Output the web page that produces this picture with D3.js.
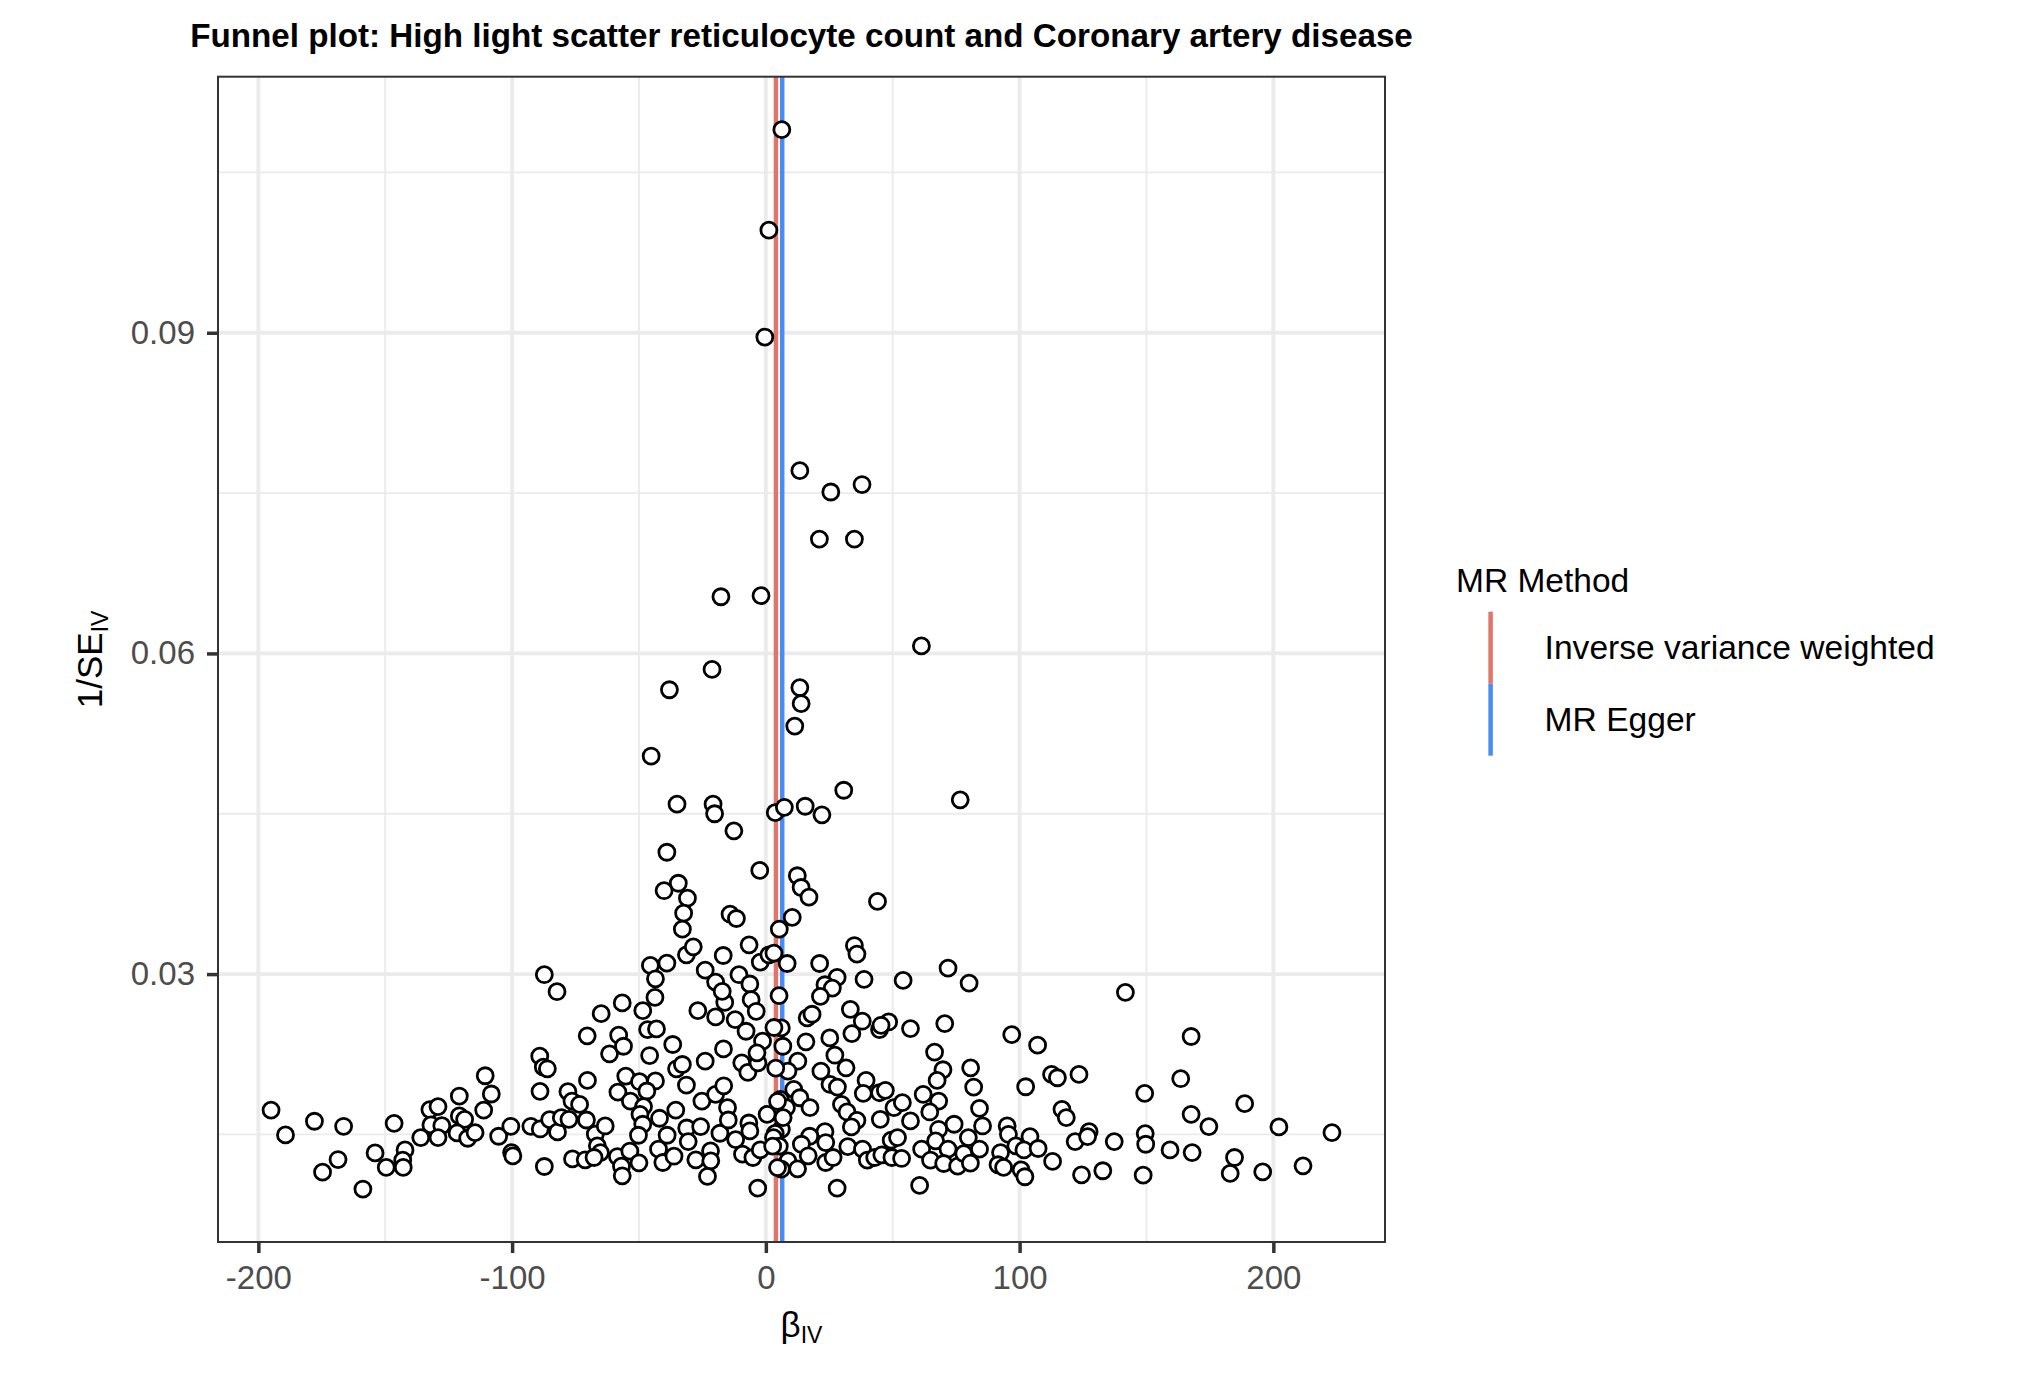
<!DOCTYPE html>
<html>
<head>
<meta charset="utf-8">
<script src="https://cdn.jsdelivr.net/npm/d3@7"></script>
<style>
  body { margin: 0; background: #fff; }
  text { font-family: "Liberation Sans", Arial, sans-serif; }
</style>
</head>
<body>
<svg id="chart" width="2032" height="1374"></svg>
<script>
// ---- data ----
// causal estimate per instrument (beta_IV) and its precision (1/SE_IV)
const betaIV = [
  -195.0, -189.3, -177.9, -166.4, -174.7, -168.6, -158.8, -154.0, -149.6, -146.5,
  -142.2, -143.1, -142.9, -136.0, -132.4, -129.2, -132.0, -127.7, -129.2, -120.8,
  -120.8, -118.7, -121.7, -117.5, -114.6, -110.6, -108.2, -111.2, -105.3, -100.5,
  -100.2, -99.7, -87.3, -82.3, -89.1, -87.7, -86.1, -89.0, -92.6, -88.9,
  -85.2, -82.1, -80.6, -78.0, -76.4, -73.4, -77.6, -87.3, -70.3, -70.4,
  -64.9, -56.6, -70.7, -67.2, -63.3, -66.4, -65.2, -76.2, -71.2, -67.7,
  -58.5, -56.9, -56.6, -53.6, -50.0, -61.6, -58.0, -56.1, -58.3, -55.2,
  -53.4, -49.8, -48.5, -45.5, -43.5, -39.0, -43.7, -46.6, -43.1, -45.8,
  -36.7, -35.2, -32.9, -43.5, -46.9, -48.2, -49.6, -48.5, -50.2, -41.9,
  -38.9, -42.3, -40.6, -36.2, -35.5, -31.3, -31.2, -30.6, -27.6, -25.2,
  -25.7, -21.8, -21.7, -23.0, -23.9, -31.3, -28.6, -26.8, -23.9, -19.8,
  -16.8, -19.8, -16.2, -17.2, -16.7, -19.8, -16.6, -18.1, -15.1, -14.8,
  -11.9, -9.2, -5.1, -3.2, -10.6, -6.3, -6.6, -2.2, 1.2, -12.1,
  -7.8, -5.8, -3.8, -1.3, -9.5, -7.1, -3.1, -3.5, -6.7, -6.3,
  -2.2, 0.5,
  34.9, 35.9, 8.4, 21.2, 28.1, 23.3, 26.2, 21.5, 38.7, 54.1,
  71.8, 80.1, 141.7, 5.2, 33.3, 16.3, 18.2, 38.0, 44.8, 48.4,
  45.4, 57.0, 70.5, 33.9, 25.2, 15.8, 96.9, 107.1, 167.6, 6.1,
  6.7, 27.2, 12.6, 66.5, 21.7, 31.6, 8.7, 69.8, 80.7, 67.5,
  81.9, 102.4, 112.6, 114.9, 123.4, 163.5, 149.3, 25.3, 28.2, 39.5,
  38.4, 44.8, 47.1, 62.0, 68.1, 11.0, 13.4, 17.4, 5.7, 8.1,
  29.8, 32.0, 35.9, 33.7, 50.5, 53.8, 45.1, 57.0, 64.6, 84.2,
  116.7, 118.4, 167.6, 188.7, 174.6, 202.2, 223.1, 6.1, 23.3, 17.3,
  23.6, 14.0, 32.3, 38.1, 16.7, 23.6, 26.5, 8.7, 12.5, 6.1,
  28.1, 40.0, 42.9, 45.7, 49.4, 51.9, 49.7, 53.5, 60.6, 61.4,
  64.9, 68.1, 66.9, 74.2, 71.8, 70.1, 75.6, 78.0, 79.8, 80.6,
  84.2, 85.4, 95.1, 95.6, 92.5, 91.5, 93.7, 98.5, 104.1, 101.7,
  107.3, 100.6, 102.1, 113.0, 121.9, 127.4, 126.8, 124.4, 132.8, 137.3,
  149.5, 149.7, 148.7, 159.3, 168.0, 184.7, 183.0, 195.8, 211.7, 6.8,
  3.2,
  6.3, 1.2, -0.4, 13.4, 25.6, 37.9, 21.1, 34.9, -17.7, -1.9,
  61.3, -21.2, -38.0, 13.4, 13.9, 11.4, -45.2, 30.7, 76.6, -35.0,
  -20.8, -20.2, 3.7, 7.3, 15.5, 22.1, -12.6, -39.0, -2.4, 12.4,
  13.9, -34.5, -40.1, -30.9, 17.0, 44.0, -32.4, -14.1, -11.6, 10.4,
  -32.9, 5.3,
  3.2, 3.9, 4.6, 3.7, 3.0, 5.3, 2.7, 4.6
];
const invSE = [
  0.01728, 0.01495, 0.01623, 0.01576, 0.01147, 0.01265, 0.00989, 0.01327, 0.01191, 0.01604,
  0.01355, 0.01259, 0.01191, 0.01470, 0.01732, 0.01760, 0.01589, 0.01582, 0.01470, 0.01859,
  0.01673, 0.01641, 0.01514, 0.01464, 0.01517, 0.02049, 0.01878, 0.01728, 0.01483, 0.01576,
  0.01330, 0.01299, 0.02994, 0.02835, 0.02232, 0.02130, 0.02114, 0.01903, 0.01576, 0.01551,
  0.01638, 0.01523, 0.01657, 0.01900, 0.01812, 0.01781, 0.01641, 0.01200, 0.02005, 0.02422,
  0.02630, 0.02730, 0.01635, 0.01502, 0.01579, 0.01393, 0.01330, 0.01271, 0.01262, 0.01284,
  0.01293, 0.01203, 0.01113, 0.01343, 0.01234, 0.02254, 0.02428, 0.02325, 0.01896, 0.02046,
  0.01812, 0.01993, 0.02658, 0.03081, 0.02956, 0.03103, 0.02782, 0.02481, 0.02487, 0.02238,
  0.02341, 0.02114, 0.02154, 0.02000, 0.01906, 0.01760, 0.01688, 0.01595, 0.01492, 0.01651,
  0.01492, 0.01362, 0.01237, 0.01296, 0.01728, 0.01962, 0.01560, 0.01433, 0.01262, 0.01812,
  0.01573, 0.01346, 0.01253, 0.01107, 0.02185, 0.03180, 0.03255, 0.02658, 0.03037, 0.02925,
  0.03174, 0.02599, 0.02736, 0.02838, 0.02300, 0.01875, 0.01955, 0.01511, 0.01750, 0.01635,
  0.01452, 0.01315, 0.01284, 0.00998, 0.02994, 0.02907, 0.03274, 0.03112, 0.03180, 0.02574,
  0.02465, 0.02761, 0.02652, 0.02372, 0.02170, 0.02080, 0.02170, 0.02263, 0.01607, 0.01533,
  0.01355, 0.01688,
  0.03267, 0.03187, 0.03099, 0.03099, 0.02969, 0.02900, 0.02869, 0.02792, 0.02950, 0.02941,
  0.03056, 0.02916, 0.02829, 0.02798, 0.02670, 0.02590, 0.02624, 0.02559, 0.02481, 0.02552,
  0.02521, 0.02490, 0.02537, 0.02443, 0.02403, 0.02366, 0.02434, 0.02335, 0.02416, 0.02496,
  0.02325, 0.02241, 0.02185, 0.02270, 0.02092, 0.02123, 0.02092, 0.02105, 0.02123, 0.02005,
  0.01943, 0.01946, 0.02061, 0.02030, 0.02061, 0.02021, 0.01884, 0.01968, 0.01943, 0.02005,
  0.01884, 0.01890, 0.01912, 0.01875, 0.01812, 0.01921, 0.01843, 0.01750, 0.01828, 0.01750,
  0.01781, 0.01710, 0.01632, 0.01570, 0.01750, 0.01797, 0.01641, 0.01626, 0.01710, 0.01744,
  0.01735, 0.01657, 0.01688, 0.01788, 0.01573, 0.01570, 0.01517, 0.01548, 0.01526, 0.01483,
  0.01424, 0.01408, 0.01386, 0.01362, 0.01300, 0.01237, 0.01284, 0.01253, 0.01178, 0.01175,
  0.00998, 0.01259, 0.01284, 0.01309, 0.01446, 0.01470, 0.01284, 0.01275, 0.01023, 0.01362,
  0.01259, 0.01548, 0.01439, 0.01595, 0.01362, 0.01228, 0.01203, 0.01321, 0.01470, 0.01231,
  0.01362, 0.01579, 0.01579, 0.01501, 0.01330, 0.01216, 0.01191, 0.01393, 0.01480, 0.01355,
  0.01368, 0.01169, 0.01104, 0.01247, 0.01433, 0.01526, 0.01480, 0.01122, 0.01160, 0.01433,
  0.01508, 0.01408, 0.01119, 0.01355, 0.01330, 0.01284, 0.01135, 0.01150, 0.01206, 0.01657,
  0.03196,
  0.1090, 0.0996, 0.0896, 0.0771, 0.0751, 0.0758, 0.0707, 0.0707, 0.0653, 0.0654,
  0.0607, 0.0585, 0.0566, 0.0568, 0.0553, 0.0532, 0.0504, 0.0472, 0.0463, 0.0459,
  0.0459, 0.0450, 0.0451, 0.0456, 0.0457, 0.0449, 0.0434, 0.0414, 0.0397, 0.0392,
  0.0381, 0.0385, 0.0378, 0.0371, 0.0372, 0.0368, 0.0357, 0.0356, 0.0352, 0.0353,
  0.0342, 0.0342,
  0.0250, 0.0212, 0.0181, 0.0151, 0.0147, 0.0139, 0.0139, 0.0119
];

// MR estimates drawn as vertical lines
const methods = ["Inverse variance weighted", "MR Egger"];
const methodBeta = [3.97, 6.45];
const methodColors = ["#E0766A", "#4A8CF6"];

const xTicks = [-200, -100, 0, 100, 200];
const xMinor = [-150, -50, 50, 150];
const yTicks = [0.03, 0.06, 0.09];
const yMinor = [0.015, 0.045, 0.075, 0.105];

const titleText = "Funnel plot: High light scatter reticulocyte count and Coronary artery disease";

// ---- layout ----
const panel = { left: 218, top: 76.7, right: 1385, bottom: 1242 };
const FONT = 33;

const svg = d3.select("#chart");
svg.append("rect").attr("width", 2032).attr("height", 1374).attr("fill", "#fff");

const points = betaIV.map((b, i) => ({ b: b, p: invSE[i] }));

// ggplot-style 5% expansion of the data range
function expand(ext, f) {
  const pad = (ext[1] - ext[0]) * f;
  return [ext[0] - pad, ext[1] + pad];
}
const x = d3.scaleLinear()
  .domain(expand(d3.extent(betaIV.concat(methodBeta)), 0.05))
  .range([panel.left, panel.right]);
const y = d3.scaleLinear()
  .domain(expand(d3.extent(invSE), 0.05))
  .range([panel.bottom, panel.top]);

const g = svg.append("g");

// grid
const grid = g.append("g").attr("stroke", "#EBEBEB");
grid.selectAll(".xminor").data(xMinor).join("line")
  .attr("x1", d => x(d)).attr("x2", d => x(d))
  .attr("y1", panel.top).attr("y2", panel.bottom)
  .attr("stroke-width", 1.9);
grid.selectAll(".yminor").data(yMinor).join("line")
  .attr("y1", d => y(d)).attr("y2", d => y(d))
  .attr("x1", panel.left).attr("x2", panel.right)
  .attr("stroke-width", 1.9);
grid.selectAll(".xmajor").data(xTicks).join("line")
  .attr("x1", d => x(d)).attr("x2", d => x(d))
  .attr("y1", panel.top).attr("y2", panel.bottom)
  .attr("stroke-width", 3.8);
grid.selectAll(".ymajor").data(yTicks).join("line")
  .attr("y1", d => y(d)).attr("y2", d => y(d))
  .attr("x1", panel.left).attr("x2", panel.right)
  .attr("stroke-width", 3.8);

// method estimate lines
g.append("g").selectAll("line").data(methodBeta).join("line")
  .attr("x1", d => x(d)).attr("x2", d => x(d))
  .attr("y1", panel.top).attr("y2", panel.bottom)
  .attr("stroke", (d, i) => methodColors[i])
  .attr("stroke-width", 4.5);

// points
g.append("g").selectAll("circle").data(points).join("circle")
  .attr("cx", d => x(d.b))
  .attr("cy", d => y(d.p))
  .attr("r", 8)
  .attr("fill", "#fff")
  .attr("stroke", "#000")
  .attr("stroke-width", 2.8);

// panel border
g.append("rect")
  .attr("x", panel.left).attr("y", panel.top)
  .attr("width", panel.right - panel.left).attr("height", panel.bottom - panel.top)
  .attr("fill", "none").attr("stroke", "#333").attr("stroke-width", 2);

// axes (plain hyphen for negatives, like R)
function styleAxis(sel) {
  sel.select(".domain").remove();
  sel.selectAll(".tick line").attr("stroke", "#333").attr("stroke-width", 3.5);
  sel.selectAll(".tick text")
    .attr("fill", "#4D4D4D")
    .style("font-size", FONT + "px")
    .style("font-family", '"Liberation Sans", Arial, sans-serif');
}
svg.append("g")
  .attr("transform", `translate(0,${panel.bottom})`)
  .call(d3.axisBottom(x).tickValues(xTicks).tickSize(11).tickPadding(13).tickFormat(d => String(d)))
  .call(styleAxis);
svg.append("g")
  .attr("transform", `translate(${panel.left},0)`)
  .call(d3.axisLeft(y).tickValues(yTicks).tickSize(11).tickPadding(12).tickFormat(d => d.toFixed(2)))
  .call(styleAxis);

// axis titles
const cx = (panel.left + panel.right) / 2;
const cy = (panel.top + panel.bottom) / 2;
const xt = svg.append("text")
  .attr("x", cx).attr("y", 1337)
  .attr("text-anchor", "middle")
  .style("font-size", "35px");
xt.append("tspan").text("β");
xt.append("tspan").attr("dy", 6).style("font-size", "23px").text("IV");

const yt = svg.append("text")
  .attr("transform", `translate(102,${cy}) rotate(-90)`)
  .attr("text-anchor", "middle")
  .style("font-size", "35px");
yt.append("tspan").text("1/SE");
yt.append("tspan").attr("dy", 6).style("font-size", "23px").text("IV");

// title
svg.append("text")
  .attr("x", cx).attr("y", 47)
  .attr("text-anchor", "middle")
  .style("font-size", "33.2px")
  .style("font-weight", "bold")
  .text(titleText);

// legend
const legend = svg.append("g");
legend.append("text")
  .attr("x", 1456).attr("y", 592)
  .style("font-size", "33.5px")
  .text("MR Method");
const keyTop = 611.7, keyH = 72;
methods.forEach((m, i) => {
  legend.append("line")
    .attr("x1", 1490.6).attr("x2", 1490.6)
    .attr("y1", keyTop + i * keyH).attr("y2", keyTop + (i + 1) * keyH)
    .attr("stroke", methodColors[i])
    .attr("stroke-width", 4.5);
  legend.append("text")
    .attr("x", 1544.6).attr("y", keyTop + i * keyH + keyH / 2 + 11.5)
    .style("font-size", "33.6px")
    .text(m);
});
</script>
</body>
</html>
